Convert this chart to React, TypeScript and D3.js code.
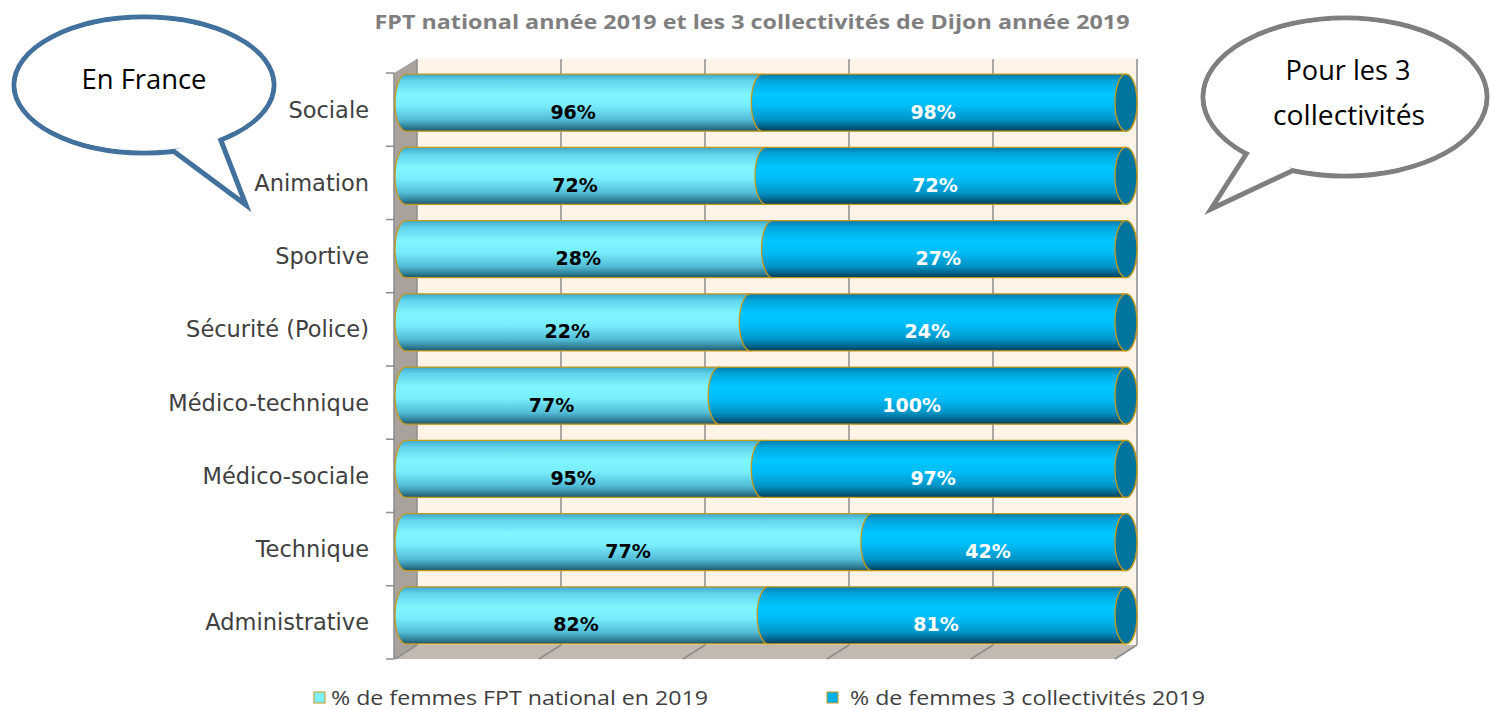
import React from "react";
import * as d3 from "d3";

const categories = ["Sociale", "Animation", "Sportive", "Sécurité (Police)", "Médico-technique", "Médico-sociale", "Technique", "Administrative"];
const national = [96, 72, 28, 22, 77, 95, 77, 82];
const collectivites = [98, 72, 27, 24, 100, 97, 42, 81];
const xTicks = [0, 0.2, 0.4, 0.6, 0.8, 1];
const title = "FPT national année 2019 et les 3 collectivités de Dijon année 2019";
const legendLabels = ["% de femmes FPT national en 2019", "% de femmes 3 collectivités 2019"];

const W = 1491, H = 710;
const DX = 22, DY = -14;
const GOLD = "#c49a1e";

export default function App() {
  const x = d3.scaleLinear().domain([0, 1]).range([395, 1115]);
  const y = d3.scaleBand<string>().domain(categories).range([73, 659]).paddingInner(0.22).paddingOuter(0.11);
  const band = d3.scaleBand<string>().domain(categories).range([73, 659]);
  const r = y.bandwidth() / 2;
  const rx = 11;
  const floorY = 659;
  const topY = 73;

  const seg = (x0: number, x1: number, cy: number) =>
    `M${x0},${cy - r} L${x1},${cy - r} A${rx},${r} 0 0 1 ${x1},${cy + r} L${x0},${cy + r} A${rx},${r} 0 0 1 ${x0},${cy - r} Z`;

  const bars = categories.map((c, i) => {
    const tot = national[i] + collectivites[i];
    const f = national[i] / tot;
    const cyFront = (band(c) as number) + band.bandwidth() / 2;
    const cy = cyFront + DY / 2;
    const bx = (v: number) => x(v) + DX / 2;
    return { c, f, cy, cyFront, bx, i };
  });

  return (
    <svg width={W} height={H} style={{ position: "absolute", left: 0, top: 0, background: "#fff" }} fontFamily="'Open Sans', 'DejaVu Sans', sans-serif">
      <defs>
        <linearGradient id="gLight" x1="0" y1="0" x2="0" y2="1">
          <stop offset="0" stopColor="#3fa8c8" />
          <stop offset="0.12" stopColor="#62d4ec" />
          <stop offset="0.35" stopColor="#80f6ff" />
          <stop offset="0.55" stopColor="#78eefc" />
          <stop offset="0.8" stopColor="#52bcd6" />
          <stop offset="0.93" stopColor="#2f7e96" />
          <stop offset="1" stopColor="#1d5466" />
        </linearGradient>
        <linearGradient id="gDark" x1="0" y1="0" x2="0" y2="1">
          <stop offset="0" stopColor="#0078a8" />
          <stop offset="0.12" stopColor="#00a6dc" />
          <stop offset="0.35" stopColor="#00c6ff" />
          <stop offset="0.55" stopColor="#00bcf6" />
          <stop offset="0.8" stopColor="#0094c6" />
          <stop offset="0.93" stopColor="#005d82" />
          <stop offset="1" stopColor="#003a52" />
        </linearGradient>
      </defs>

      <text x={752} y={29} textAnchor="middle" fontSize={20} fontWeight="bold" fill="#7f7f7f" textLength={755} lengthAdjust="spacingAndGlyphs">{title}</text>

      <rect x={x(0) + DX} y={topY + DY} width={x(1) - x(0)} height={floorY - topY} fill="#fdf3e6" />
      <polygon points={`${x(0) - 1},${topY} ${x(0) + DX},${topY + DY} ${x(0) + DX},${floorY + DY} ${x(0) - 1},${floorY}`} fill="#a9a29c" />
      <polygon points={`${x(0)},${floorY} ${x(1)},${floorY} ${x(1) + DX},${floorY + DY} ${x(0) + DX},${floorY + DY}`} fill="#c2b9b1" />
      {xTicks.map((t) => (
        <g key={t}>
          <line x1={x(t) + DX} x2={x(t) + DX} y1={topY + DY} y2={floorY + DY} stroke="#8c8c8c" strokeWidth={1.5} />
          <line x1={x(t)} x2={x(t) + DX} y1={floorY} y2={floorY + DY} stroke="#8c8c8c" strokeWidth={1.5} />
        </g>
      ))}
      <line x1={x(0) - 1} x2={x(0) - 1} y1={topY} y2={floorY} stroke="#8c8c8c" strokeWidth={1.5} />
      {d3.range(categories.length + 1).map((k) => {
        const yy = 73 + k * band.step();
        return <line key={k} x1={386} x2={x(0) - 1} y1={yy} y2={yy} stroke="#8c8c8c" strokeWidth={1.5} />;
      })}

      {bars.map((b) => (
        <text key={b.c} x={369} y={b.cyFront} textAnchor="end" dominantBaseline="central" fontSize={22.5} fill="#404040" fontFamily="'DejaVu Sans', sans-serif">{b.c}</text>
      ))}

      {bars.map((b) => {
        const x0 = b.bx(0), xm = b.bx(b.f), x1 = b.bx(1);
        return (
          <g key={b.c}>
            <path d={seg(x0, xm, b.cy)} fill="url(#gLight)" stroke={GOLD} strokeWidth={1.3} />
            <path d={seg(xm, x1, b.cy)} fill="url(#gDark)" stroke={GOLD} strokeWidth={1.3} />
            <ellipse cx={x1} cy={b.cy} rx={rx} ry={r} fill="#00749c" stroke={GOLD} strokeWidth={1.3} />
            <text x={(x(0) + x(b.f)) / 2} y={b.cyFront + 2} textAnchor="middle" dominantBaseline="central" fontSize={19} fontWeight="bold" fill="#000" fontFamily="'DejaVu Sans', sans-serif">{national[b.i]}%</text>
            <text x={(x(b.f) + x(1)) / 2} y={b.cyFront + 2} textAnchor="middle" dominantBaseline="central" fontSize={19} fontWeight="bold" fill="#fff" fontFamily="'DejaVu Sans', sans-serif">{collectivites[b.i]}%</text>
          </g>
        );
      })}

      <rect x={314} y={692} width={11} height={11} fill="#7ff0ff" stroke={GOLD} strokeWidth={1} />
      <text x={331} y={705} fontSize={19.5} fill="#404040" textLength={377} lengthAdjust="spacingAndGlyphs">{legendLabels[0]}</text>
      <rect x={827} y={692} width={11} height={11} fill="#00b0e8" stroke={GOLD} strokeWidth={1} />
      <text x={850} y={705} fontSize={19.5} fill="#404040" textLength={355} lengthAdjust="spacingAndGlyphs">{legendLabels[1]}</text>

      <g>
        <ellipse cx={144} cy={85} rx={130} ry={68} fill="#fff" stroke="#41719c" strokeWidth={5} />
        <path d="M172,150 L246,205 L220,138" fill="#fff" stroke="#41719c" strokeWidth={5} strokeLinejoin="miter" />
        <ellipse cx={144} cy={85} rx={127.5} ry={65.5} fill="#fff" />
        <text x={144} y={89} textAnchor="middle" fontSize={28} fill="#000" textLength={125} lengthAdjust="spacingAndGlyphs">En France</text>
      </g>
      <g>
        <ellipse cx={1345} cy={97} rx={142} ry={79} fill="#fff" stroke="#7f7f7f" strokeWidth={5} />
        <path d="M1252,145 L1211,209 L1294,170" fill="#fff" stroke="#7f7f7f" strokeWidth={5} strokeLinejoin="miter" />
        <ellipse cx={1345} cy={97} rx={139.5} ry={76.5} fill="#fff" />
        <text x={1348} y={80} textAnchor="middle" fontSize={28} fill="#000" textLength={125} lengthAdjust="spacingAndGlyphs">Pour les 3</text>
        <text x={1349} y={125} textAnchor="middle" fontSize={28} fill="#000" textLength={152} lengthAdjust="spacingAndGlyphs">collectivités</text>
      </g>
    </svg>
  );
}
